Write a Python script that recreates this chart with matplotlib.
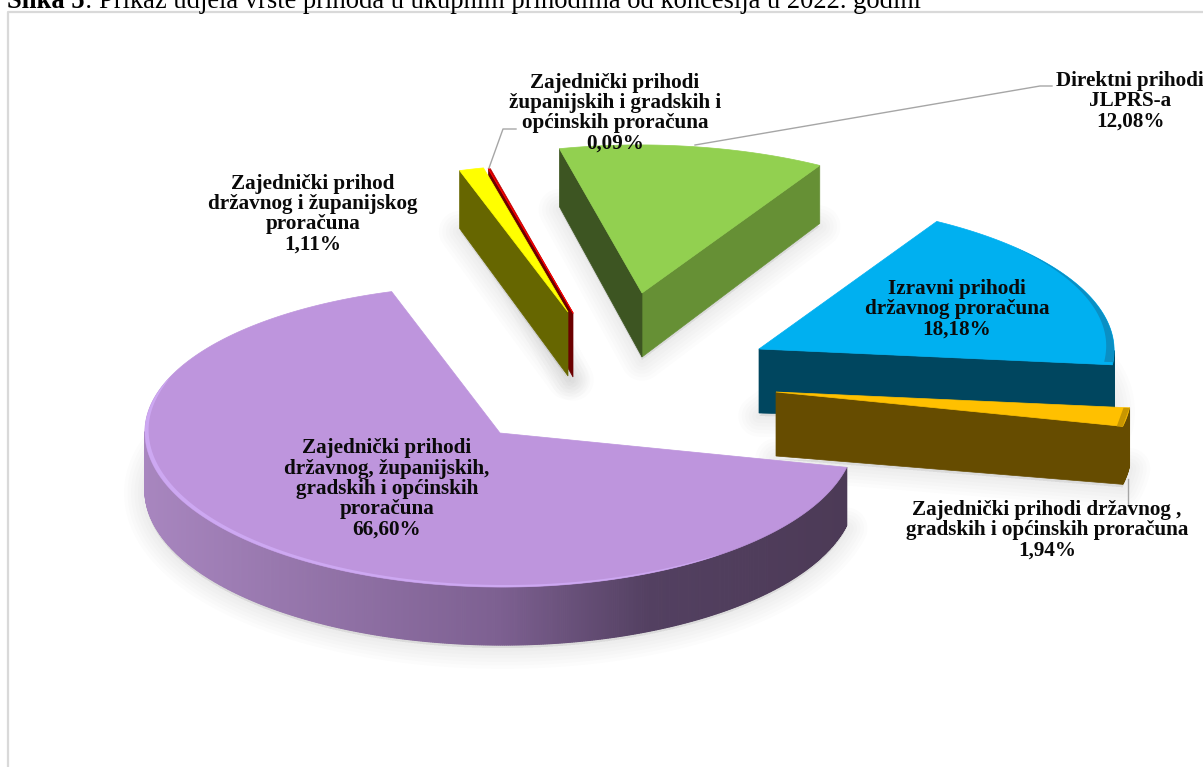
import numpy as np
import matplotlib
matplotlib.use("Agg")
from matplotlib import pyplot as plt
from matplotlib.patches import Polygon

# shares in drawing order, clockwise from the green slice
names = ["Direktni prihodi\nJLPRS-a",
         "Izravni prihodi\ndržavnog proračuna",
         "Zajednički prihodi državnog ,\ngradskih i općinskih proračuna",
         "Zajednički prihodi\ndržavnog, županijskih,\ngradskih i općinskih\nproračuna",
         "Zajednički prihod\ndržavnog i županijskog\nproračuna",
         "Zajednički prihodi\nžupanijskih i gradskih i\nopćinskih proračuna"]
shares = [12.08, 18.18, 1.94, 66.60, 1.11, 0.09]
share_text = ["12,08%", "18,18%", "1,94%", "66,60%", "1,11%", "0,09%"]

top_colors = ["#92D050", "#00B0F0", "#FFC000", "#BE95DD", "#FFFF00", "#C00000"]
side_colors = [("#3D5522", "#669035"), ("#00465F", "#00465F"), ("#664C00", "#664C00"),
               None, ("#666600", "#666600"), ("#6B0000", "#6B0000")]
apex = [(642, 293), (759, 349), (776, 392), (500, 433), (568, 312), (573, 313)]
label_pos = [(1130, 101), (957, 309), (1047, 530), (387, 489), (313, 214), (615, 113)]
draw_order = [5, 4, 0, 3, 1, 2]

START = 104.9
RX, RY_BACK, RY_FRONT = 355, 148, 154
SHEAR, TILT = 9, 5


def project(c, theta, r=1.0):
    t = np.radians(theta)
    sn, cs = np.sin(t), np.cos(t)
    ry = np.where(sn > 0, RY_BACK, RY_FRONT)
    r = np.asarray(r)
    x = c[0] + r * (RX * cs + SHEAR * sn)
    y = c[1] - r * (ry * sn - TILT * cs)
    return np.column_stack([x, y])


def depth(r):
    return 64 - 6 * r


def rim_color(x):
    stops = [145, 500, 650, 850]
    r = np.interp(x, stops, [168, 125, 83, 76])
    g = np.interp(x, stops, [134, 96, 64, 58])
    b = np.interp(x, stops, [191, 145, 97, 86])
    return (r / 255, g / 255, b / 255)


def bevel(c, th, inner_r, color, order):
    # band along the arc, narrowing towards the end of th
    inner = project(c, th, inner_r)
    ax.add_patch(Polygon(np.vstack([project(c, th), inner[::-1]]), closed=True,
                         fc=color, ec="none", zorder=order))


fig = plt.figure(figsize=(12.03, 7.67), dpi=100)
ax = fig.add_axes([0, 0, 1, 1])
ax.set_xlim(0, 1203)
ax.set_ylim(767, 0)
ax.axis("off")

# frame of the embedded chart
ax.plot([8, 8, 1203], [767, 12, 12], color="#D9D9D9", lw=1.6, zorder=1)

# slice angles come from the shares
ends = START - np.cumsum(shares) * 3.6
starts = np.concatenate([[START], ends[:-1]])
z = 3
for i in draw_order:
    lo, hi = ends[i], starts[i]
    c = apex[i]
    n = max(int((hi - lo) * 3), 3)
    th = np.linspace(lo, hi, n)
    arc = project(c, th)

    # soft shadow under the slice
    bottom = np.vstack([[c[0], c[1] + depth(0)], arc + [0, depth(1)]])
    for lw in (30, 25, 20, 15, 10, 5):
        ax.add_patch(Polygon(bottom + [0, 3], closed=True, fc="#000000", ec="#000000",
                             lw=lw, alpha=0.012, joinstyle="round", zorder=2))

    # sides: any edge running left to right on screen faces the viewer
    p0 = np.array(c, dtype=float)
    edges = [(p0, arc[0], 0, 1, 1), (arc[-1], p0, 1, 0, 0)]
    for a, b, ra, rb, which in edges:
        if b[0] > a[0] and side_colors[i] is not None:
            quad = [a, b, b + [0, depth(rb)], a + [0, depth(ra)]]
            col = side_colors[i][which]
            ax.add_patch(Polygon(quad, closed=True, fc=col, ec=col, lw=0.5, zorder=z))
    for k in range(n - 1):
        a, b = arc[k], arc[k + 1]
        if b[0] > a[0]:
            col = rim_color((a[0] + b[0]) / 2 - c[0] + 500) if side_colors[i] is None else side_colors[i][1]
            quad = [a, b, b + [0, depth(1)], a + [0, depth(1)]]
            ax.add_patch(Polygon(quad, closed=True, fc=col, ec=col, lw=0.8, zorder=z))
    z += 1

    # top face
    ax.add_patch(Polygon(np.vstack([p0, arc]), closed=True, fc=top_colors[i],
                         ec=top_colors[i], lw=0.5, zorder=z))
    z += 1

    # bevel along the outer edge
    if i == 3:
        b_th = np.linspace(-200, -50, 120)
        bevel(c, b_th, 1 - 0.016 * np.sin(np.linspace(0, np.pi, 120)) ** 0.5, "#CDA8F2", z)
    elif i == 1:
        b_th = np.linspace(lo + 1, lo + 50, 40)
        bevel(c, b_th, np.linspace(0.975, 1.0, 40), "#0A8FC4", z)
    elif i == 2:
        tip = project(c, np.array([lo, hi]))
        ax.add_patch(Polygon([tip[0], tip[1], tip[1] - [6, 0], tip[0] - [6, 0]], closed=True,
                             fc="#C89600", ec="none", zorder=z))
    elif i == 5:
        ax.plot(*np.column_stack([p0, arc[-1]]), color="#FF0000", lw=0.8, zorder=z)
    z += 1

# leader lines
leader = "#A6A6A6"
ax.plot([695, 1040, 1052], [145, 86, 86], color=leader, lw=1, zorder=30)
ax.plot([489, 503, 516], [168, 129, 129], color=leader, lw=1, zorder=30)
ax.plot([1128, 1128], [479, 506], color=leader, lw=1, zorder=30)

# data labels
for name, pct, pos in zip(names, share_text, label_pos):
    ax.text(pos[0], pos[1], name + "\n" + pct, ha="center", va="center", ma="center",
            family="Liberation Serif", weight="bold", size=15.2, linespacing=1.02,
            color="#0A0A0A", zorder=40)

# caption, cut off by the top of the picture
r = fig.canvas.get_renderer()
t1 = ax.text(7, 8, "Slika 5", family="Liberation Serif", weight="bold", size=19.1,
             va="baseline", color="black", zorder=40)
x_end = t1.get_window_extent(r).x1
ax.text(x_end, 8, ": Prikaz udjela vrste prihoda u ukupnim prihodima od koncesija u 2022. godini",
        family="Liberation Serif", size=19.1, va="baseline", color="black", zorder=40)

fig.savefig("out.png", dpi=100)
